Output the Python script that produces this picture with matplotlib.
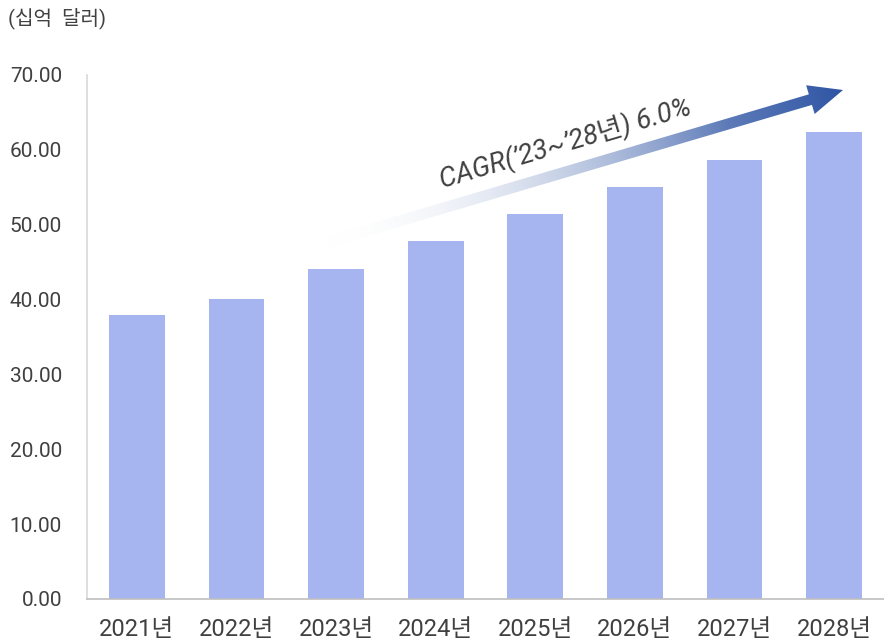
import numpy as np
import matplotlib
matplotlib.use("Agg")
import matplotlib.pyplot as plt
from matplotlib.patches import Polygon
from matplotlib.colors import to_rgb

plt.rcParams['font.family'] = ['Roboto', 'Noto Sans CJK KR', 'DejaVu Sans']

years = ['2021년', '2022년', '2023년', '2024년', '2025년', '2026년', '2027년', '2028년']
values = [37.9, 40.1, 44.1, 47.8, 51.4, 55.0, 58.6, 62.4]
yticks = [0, 10, 20, 30, 40, 50, 60, 70]
unit_label = '(십억  달러)'
cagr_label = "CAGR(’23~’28년) 6.0%"

W, H, DPI = 884, 641, 100
fig = plt.figure(figsize=(W / DPI, H / DPI), dpi=DPI)
ax = fig.add_axes([87 / W, 1 - 599 / H, (884 - 87) / W, (599 - 75) / H])

x = np.arange(len(years))
ax.bar(x, values, width=0.56, color='#A6B5F0', zorder=2)
ax.set_xlim(-0.5, len(years) - 0.5)
ax.set_ylim(0, 70)
ax.set_yticks(yticks)
ax.set_yticklabels([f'{v:.2f}' for v in yticks])
ax.set_xticks(x)
ax.set_xticklabels(years)
ax.tick_params(axis='y', length=0, pad=18, labelsize=15, labelcolor='#404040')
ax.tick_params(axis='x', length=0, pad=14, labelsize=17, labelcolor='#404040')
for s in ['top', 'right']:
    ax.spines[s].set_visible(False)
ax.spines['left'].set_color('#D9D9D9')
ax.spines['bottom'].set_color('#BFBFBF')
ax.spines['left'].set_linewidth(1.2)
ax.spines['bottom'].set_linewidth(1.2)

fig.text(8 / W, 1 - 18 / H, unit_label, fontsize=14.5, color='#404040',
         ha='left', va='center')

# gradient arrow in pixel space
fig.canvas.draw()
p0 = np.array([325.0, H - 243.0])
p1 = np.array([843.0, H - 90.0])
d = p1 - p0
L = np.hypot(*d)
u = d / L
n = np.array([-u[1], u[0]])
shaft_half = 5.5
head_len = 34.0
head_half = 15.0
hb = p1 - u * head_len
pts = np.array([
    p0 + n * shaft_half,
    hb + n * shaft_half,
    hb + n * head_half,
    p1,
    hb - n * head_half,
    hb - n * shaft_half,
    p0 - n * shaft_half,
])
poly = Polygon(pts, closed=True, transform=None, facecolor='none', edgecolor='none')
fig.add_artist(poly)

xs0, xs1 = int(pts[:, 0].min()) - 2, int(pts[:, 0].max()) + 2
ys0, ys1 = int(pts[:, 1].min()) - 2, int(pts[:, 1].max()) + 2
gx, gy = np.meshgrid(np.arange(xs0, xs1), np.arange(ys0, ys1))
t = ((gx - p0[0]) * u[0] + (gy - p0[1]) * u[1]) / L
t = np.clip(t, 0, 1)
c0 = np.array(to_rgb('#FFFFFF'))
c1 = np.array(to_rgb('#2F55A4'))
img = np.zeros(gx.shape + (4,))
for k in range(3):
    img[..., k] = c0[k] + (c1[k] - c0[k]) * t
img[..., 3] = np.clip(t * 1.3, 0, 1)
im = fig.figimage(img, xo=xs0, yo=ys0, origin='lower', zorder=3)
im.set_clip_path(poly)

ang = np.degrees(np.arctan2(d[1], d[0]))
fig.text(565 / W, 1 - 143 / H, cagr_label, fontsize=19.5,
         style='italic', color='#404040', rotation=ang, rotation_mode='anchor',
         ha='center', va='center', zorder=4)

fig.savefig('out.png', dpi=DPI)
